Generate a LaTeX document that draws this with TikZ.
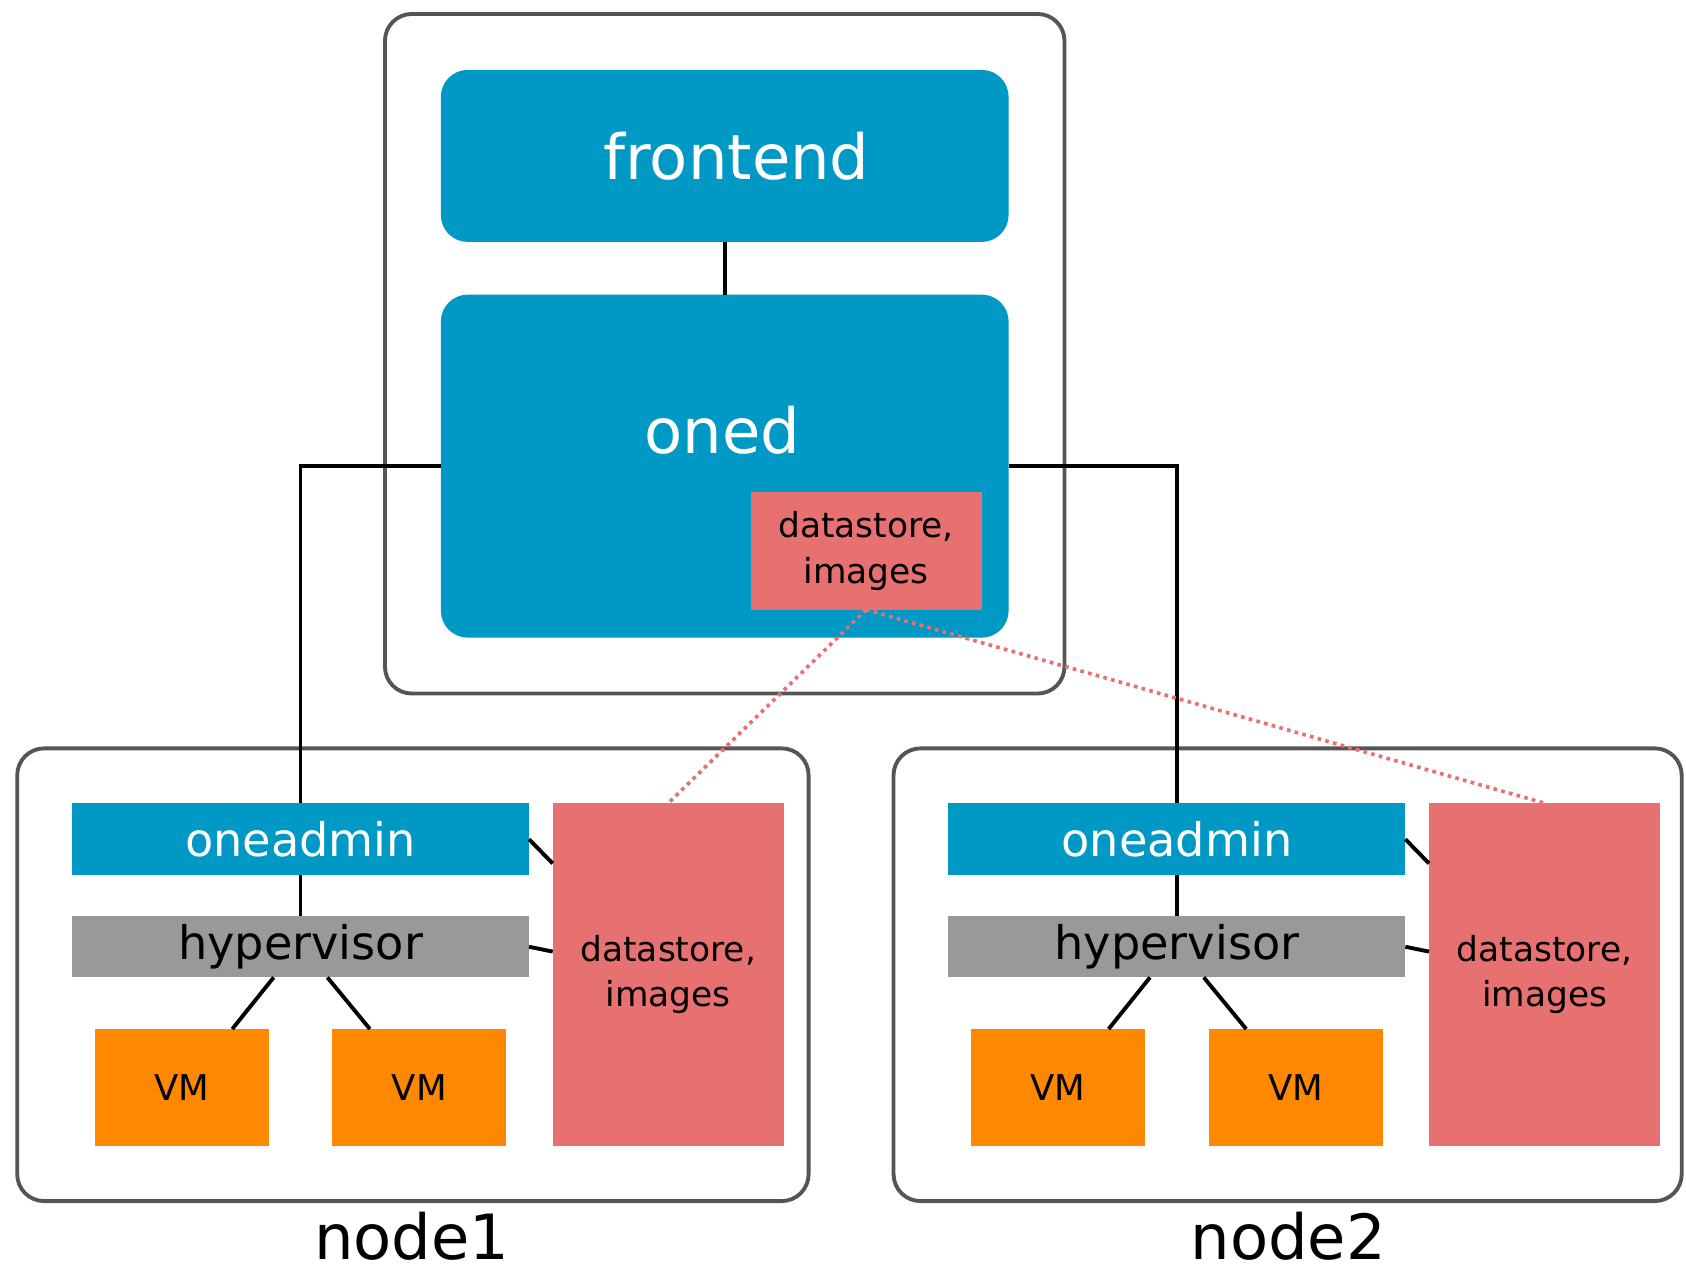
\documentclass[tikz,border=0pt]{standalone}
\usepackage{fontspec}
\setmainfont{DejaVu Sans}
\usetikzlibrary{calc}
\definecolor{oneblue}{RGB}{0,152,196}
\definecolor{dsred}{RGB}{231,112,112}
\definecolor{vmorange}{RGB}{255,136,0}
\definecolor{hvgray}{RGB}{153,153,153}
\definecolor{framegray}{RGB}{85,85,85}
\begin{document}
\begin{tikzpicture}[x=1pt,y=-1pt,
  every node/.style={inner sep=0pt,outer sep=0pt,anchor=north west},
  frame/.style={draw=framegray,line width=3.6pt,rounded corners=25pt,fill=white},
  bigblue/.style={fill=oneblue,rounded corners=25pt,text=white,font=\fontsize{58}{70}\selectfont},
  bar/.style={minimum width=425pt,font=\fontsize{43}{50}\selectfont},
  adminbar/.style={bar,fill=oneblue,text=white,minimum height=67pt},
  hvbar/.style={bar,fill=hvgray,text=black,minimum height=57pt},
  vmbox/.style={fill=vmorange,minimum width=162pt,minimum height=109pt,font=\fontsize{33}{40}\selectfont},
  dsbox/.style={fill=dsred,minimum width=215pt,align=center,font=\fontsize{32}{42}\selectfont},
  caption/.style={anchor=base,font=\fontsize{58}{70}\selectfont},
  link/.style={draw=black,line width=3.6pt},
  share/.style={draw=dsred,line width=3.4pt,dash pattern=on 3.4pt off 4pt}
]
\useasboundingbox (0,0) rectangle (1568,1182);

% front-end machine
\node[frame,minimum width=632pt,minimum height=632pt] (fe) at (358,13) {};
\node[bigblue,minimum width=528pt,minimum height=160pt] (frontend) at (410,65) {\hspace*{22pt}frontend};
\node[bigblue,minimum width=528pt,minimum height=319pt] (oned) at (410,274) {};
\node[anchor=center,text=white,font=\fontsize{58}{70}\selectfont] (onedlbl) at (672,400) {oned};
\node[dsbox,minimum height=109pt] (ds0) at (698,458) {datastore,\\images};

% host frames
\node[frame,minimum width=736pt,minimum height=421pt] (n1) at (16,696) {};
\node[frame,minimum width=733pt,minimum height=421pt] (n2) at (831,696) {};

% node1 content
\node[adminbar] (oa1) at (67,747) {oneadmin};
\node[hvbar] (hv1) at (67,852) {hypervisor};
\node[vmbox] (vm11) at (88,957) {VM};
\node[vmbox] (vm12) at (309,957) {VM};
\node[dsbox,minimum height=319pt] (ds1) at (514,747) {datastore,\\images};
\node[caption] (cap1) at (383,1171) {node1};

% node2 content
\node[adminbar] (oa2) at (882,747) {oneadmin};
\node[hvbar] (hv2) at (882,852) {hypervisor};
\node[vmbox] (vm21) at (903,957) {VM};
\node[vmbox] (vm22) at (1124,957) {VM};
\node[dsbox,minimum height=319pt] (ds2) at (1329,747) {datastore,\\images};
\node[caption] (cap2) at (1198,1171) {node2};

% connectors
\draw[link] (frontend.south) -- (oned.north);
\draw[link] (oned.west) -| (oa1.north);
\draw[link] (oned.east) -| (oa2.north);

\draw[link] (oa1.south) -- (hv1.north);
\draw[link] ($(hv1.south)+(-25,0)$) -- ($(vm11.north)+(47,0)$);
\draw[link] ($(hv1.south)+(25,0)$) -- ($(vm12.north)+(-46,0)$);
\draw[link] (oa1.east) -- ($(ds1.north west)+(0,56)$);
\draw[link] (hv1.east) -- ($(ds1.north west)+(0,138)$);

\draw[link] (oa2.south) -- (hv2.north);
\draw[link] ($(hv2.south)+(-25,0)$) -- ($(vm21.north)+(47,0)$);
\draw[link] ($(hv2.south)+(25,0)$) -- ($(vm22.north)+(-46,0)$);
\draw[link] (oa2.east) -- ($(ds2.north west)+(0,56)$);
\draw[link] (hv2.east) -- ($(ds2.north west)+(0,138)$);

\draw[share] (ds0.south) -- (ds1.north);
\draw[share] (ds0.south) -- (ds2.north);
\end{tikzpicture}
\end{document}
